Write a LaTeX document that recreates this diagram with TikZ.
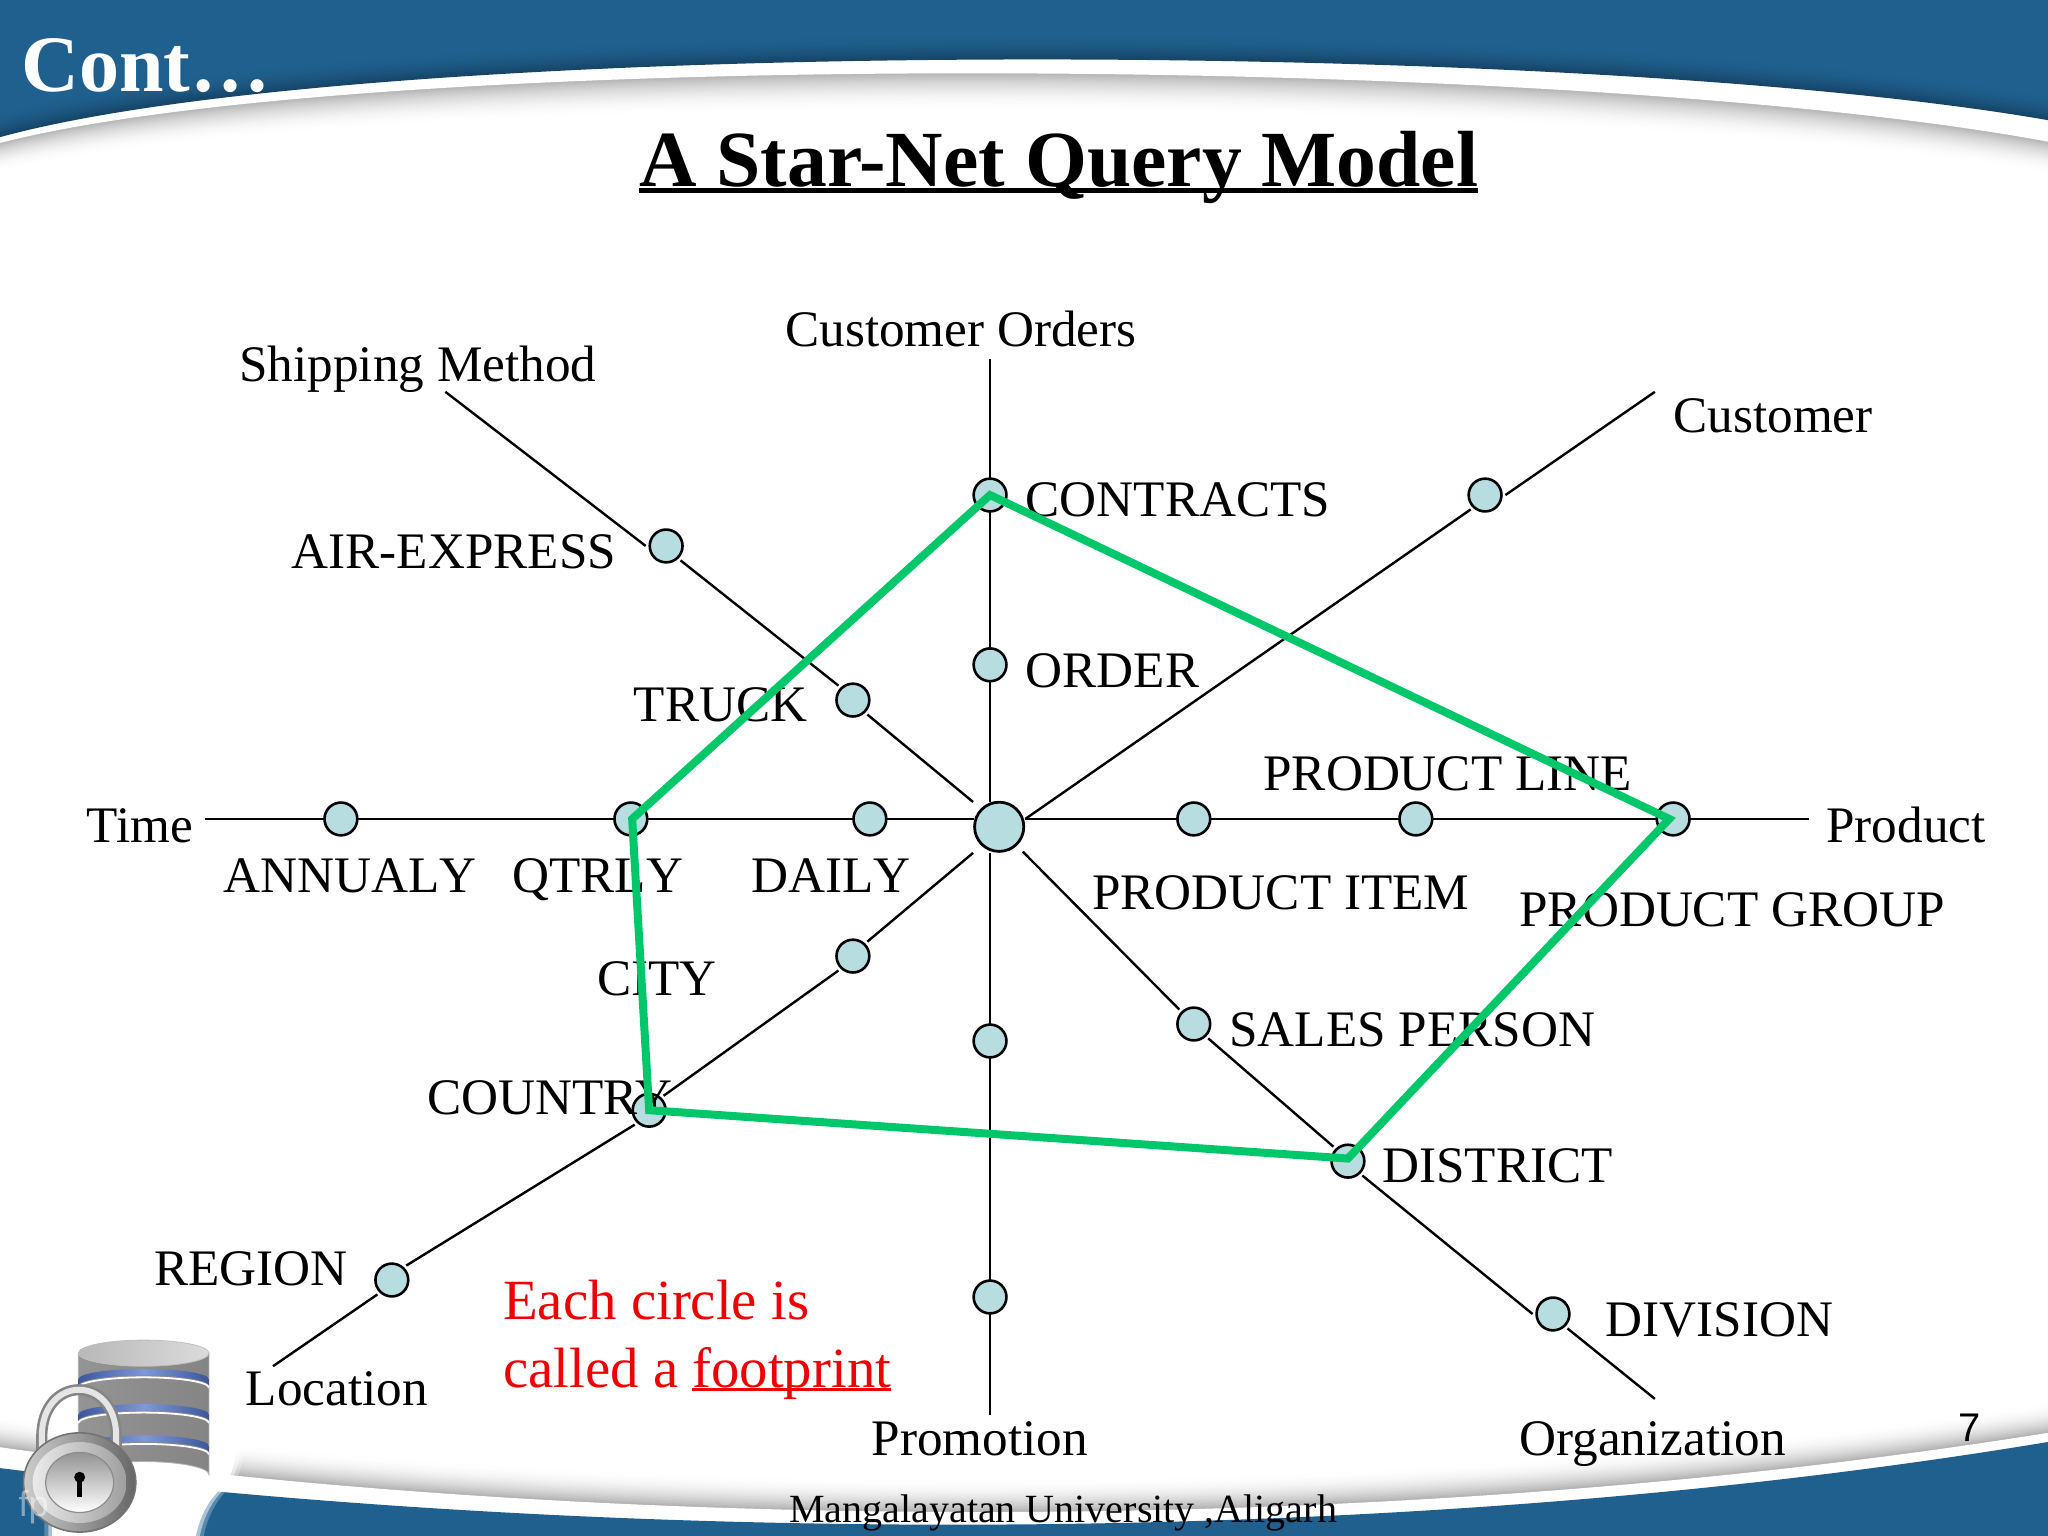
\documentclass[tikz,border=0pt]{standalone}
\usepackage{fontspec}
\setmainfont{Liberation Serif}
\newfontfamily\arialish{Liberation Sans}
\usetikzlibrary{calc}
\definecolor{slideblue}{HTML}{1F608F}
\definecolor{dotfill}{HTML}{B8DDE0}
\definecolor{footgreen}{HTML}{00C86A}
\definecolor{noteRed}{HTML}{F00000}
\definecolor{bandblue}{HTML}{4A6CC4}
\newcommand{\ulbar}[1]{\leavevmode\setbox0=\hbox{#1}\rlap{\rule[-0.075em]{\wd0}{0.055em}}\box0}
\tikzset{
  x=0.653pt,y=-0.653pt,
  link/.style={draw=black,line width=1.2pt,line cap=butt},
  dot/.style={circle,draw=black,line width=1.3pt,fill=dotfill,minimum size=16.4pt,inner sep=0pt,outer sep=0pt},
  dotgap/.style={dot,outer sep=2pt},
  hub/.style={circle,draw=black,line width=1.4pt,fill=dotfill,minimum size=24.6pt,inner sep=0pt,outer sep=0pt},
  lab/.style={anchor=base west,inner sep=0pt,font=\fontsize{25.6}{30}\selectfont},
  note/.style={anchor=base west,inner sep=0pt,text=noteRed,font=\fontsize{28.4}{34}\selectfont},
  foot/.style={draw=footgreen,line width=4pt,line join=miter}
}
\begin{document}
\begin{tikzpicture}
\useasboundingbox (0,0) rectangle (1568,1176);
\fill[white] (0,0) rectangle (1568,1176);
% ---- top swoosh
\foreach \i in {30,29,...,0}{
  \pgfmathsetmacro{\p}{30*(1-\i/30)^2}
  \fill[black!\p!white] (0,0) -- ($(0,109.5+0.75*\i)$) .. controls ($(280,37+1.05*\i)$) and ($(1200,40+1.05*\i)$) .. ($(1568,108.5+0.85*\i)$) -- (1568,0) -- cycle;
}
\fill[white] (0,0) -- (0,109.5) .. controls (280,37) and (1200,40) .. (1568,108.5) -- (1568,0) -- cycle;
\foreach \i in {0,1,...,20}{
  \pgfmathsetmacro{\p}{100-28*(1-\i/20)^2}
  \fill[slideblue!\p!black] (0,0) -- ($(0,105-\i)$) .. controls ($(280,28-\i)$) and ($(1200,28-\i)$) .. ($(1568,92-\i)$) -- (1568,0) -- cycle;
}
% ---- bottom swoosh
\foreach \i in {24,23,...,0}{
  \pgfmathsetmacro{\p}{32*(1-\i/24)^2}
  \fill[black!\p!white] (0,1176) -- ($(0,1108-\i)$) .. controls ($(450,1172-1.1*\i)$) and ($(1050,1180-1.1*\i)$) .. ($(1568,1097-\i)$) -- (1568,1176) -- cycle;
}
\fill[white] (0,1176) -- (0,1108) .. controls (450,1172) and (1050,1180) .. (1568,1097) -- (1568,1176) -- cycle;
\fill[slideblue] (0,1176) -- (0,1124) .. controls (450,1180) and (1050,1190) .. (1568,1104) -- (1568,1176) -- cycle;
% ---- glow behind the icon
\foreach \g/\o in {6/.25,3/.5,0/1}{
  \fill[white,opacity=\o] ($(40-\g,1176)$) -- ($(40-\g,1085)$) -- ($(182+\g,1085)$) .. controls ($(182+\g,1125)$) and ($(176+\g,1132)$) .. ($(168+\g,1141)$) .. controls ($(158+\g,1150)$) and ($(152+\g,1165)$) .. ($(150+\g,1176)$) -- cycle;
}
% ---- database icon
\path[left color=black!42,middle color=black!10,right color=black!48,draw=black!30,line width=.4pt]
  (60,1036) -- (60,1129) arc[start angle=180,end angle=360,x radius=50,y radius=10] -- (160,1036) -- cycle;
\foreach \b in {1056,1083,1107}{
  \path[left color=bandblue!80!black,right color=bandblue!80!black,middle color=bandblue!70!white]
    (60,\b) arc[start angle=180,end angle=360,x radius=50,y radius=8] -- ($(160,\b+5)$) arc[start angle=360,end angle=180,x radius=50,y radius=8] -- cycle;
  \draw[white,line width=.9pt] ($(60,\b+6.5)$) arc[start angle=180,end angle=360,x radius=50,y radius=8];
}
\path[left color=black!28,right color=black!14,draw=black!25,line width=.4pt] (110,1036) ellipse[x radius=50,y radius=10];
% ---- padlock
\draw[black!48,line width=5.6pt] (32,1115) -- (32,1100) .. controls (32,1052) and (89,1052) .. (89,1100) -- (89,1115);
\draw[black!10,line width=3pt] (32,1115) -- (32,1100) .. controls (32,1052) and (89,1052) .. (89,1100) -- (89,1115);
\path[left color=black!20,right color=black!60,draw=black!55,line width=.8pt] (61,1135) ellipse[x radius=43,y radius=38];
\path[left color=black!8,right color=black!38] (61,1135) ellipse[x radius=36,y radius=31];
\path[top color=black!42,bottom color=white,draw=black!45,line width=.6pt] (61,1135) ellipse[x radius=26,y radius=23];
\fill[black] (61,1131) circle[radius=4.2];
\fill[black] (59,1131) rectangle (63,1146);
\node[anchor=base west,inner sep=0pt,text=white,opacity=.45,font=\fontsize{18}{20}\selectfont\arialish] (wm) at (14,1161) {fp};
% ---- header texts
\node[anchor=base west,inner sep=0pt,text=white,font=\fontsize{40}{48}\bfseries\selectfont] (cont) at (16,70) {Cont…};
\node[anchor=base west,inner sep=0pt,font=\fontsize{39.8}{48}\bfseries\selectfont] (title) at (489,143) {\ulbar{A Star-Net Query Model}};
% ---- free ends of the axes
\coordinate (eOrders) at (758,275);
\coordinate (eHubN) at (758,614);
\coordinate (eHubS) at (758,653);
\coordinate (ePromo) at (758,1083);
\coordinate (eTime) at (157,627);
\coordinate (eHubW) at (746,627);
\coordinate (eHubE) at (785,627);
\coordinate (eProduct) at (1385,627);
\coordinate (eShip) at (341,300);
\coordinate (eHubNW) at (745,614);
\coordinate (eCust) at (1267,300);
\coordinate (eLoc) at (209,1046);
\coordinate (eHubSW) at (745,653);
\coordinate (eHubSE) at (783,652);
\coordinate (eOrg) at (1267,1071);
\coordinate (fpE) at (1278,627);
\coordinate (fpS) at (1032,887);
\coordinate (fpW) at (484,627);
% ---- dots
\node[hub] (hub) at (765,633) {};
\node[dot] (contracts) at (758,379) {};
\node[dot] (order) at (758,509) {};
\node[dot] (promoA) at (758,797) {};
\node[dot] (promoB) at (758,993) {};
\node[dot] (annually) at (261,627) {};
\node[dot] (qtrly) at (483,627) {};
\node[dot] (daily) at (666,627) {};
\node[dot] (pitem) at (914,627) {};
\node[dot] (pline) at (1084,627) {};
\node[dot] (pgroup) at (1281,627) {};
\node[dotgap] (air) at (510,418) {};
\node[dotgap] (truck) at (653,536) {};
\node[dotgap] (custdot) at (1137,379) {};
\node[dotgap] (city) at (653,732) {};
\node[dotgap] (country) at (497,850) {};
\node[dotgap] (region) at (300,980) {};
\node[dotgap] (sales) at (914,784) {};
\node[dotgap] (district) at (1032,889) {};
\node[dotgap] (division) at (1189,1006) {};
% ---- connectors
\draw[link] (eOrders) -- (contracts);
\draw[link] (contracts) -- (order);
\draw[link] (order) -- (eHubN);
\draw[link] (eHubS) -- (promoA);
\draw[link] (promoA) -- (promoB);
\draw[link] (promoB) -- (ePromo);
\draw[link] (eTime) -- (annually);
\draw[link] (annually) -- (qtrly);
\draw[link] (qtrly) -- (daily);
\draw[link] (daily) -- (eHubW);
\draw[link] (eHubE) -- (pitem);
\draw[link] (pitem) -- (pline);
\draw[link] (pline) -- (pgroup);
\draw[link] (pgroup) -- (eProduct);
\draw[link] (eShip) -- (air.west);
\draw[link] (air.south east) -- (truck.north west);
\draw[link] (truck.south east) -- (eHubNW);
\draw[link] (eCust) -- (custdot.east);
\draw[link] (custdot.south west) -- (eHubE);
\draw[link] (eHubSW) -- (city.north east);
\draw[link] (city.south west) -- (country.north east);
\draw[link] (country.south west) -- (region.north east);
\draw[link] (region.south west) -- (eLoc);
\draw[link] (eHubSE) -- (sales.north west);
\draw[link] (sales.south east) -- (district.north west);
\draw[link] (district.south east) -- (division.west);
\draw[link] (division.south east) -- (eOrg);
% ---- labels
\node[lab] (tOrders) at (601,265) {Customer Orders};
\node[lab] (tShip) at (183,292) {Shipping Method};
\node[lab] (tCust) at (1281,331) {Customer};
\node[lab] (tContracts) at (785,395.5) {CONTRACTS};
\node[lab] (tAir) at (223,435) {AIR-EXPRESS};
\node[lab] (tOrder) at (785,526) {ORDER};
\node[lab] (tTruck) at (485,552.5) {TRUCK};
\node[lab] (tPLine) at (967,605) {PRODUCT LINE};
\node[lab] (tTime) at (66,645) {Time};
\node[lab] (tProduct) at (1398,645) {Product};
\node[lab] (tAnn) at (171,683) {ANNUAL\kern0pt Y};
\node[lab] (tQtr) at (392,683) {QTRL\kern0pt Y};
\node[lab] (tDaily) at (575,683) {DAIL\kern0pt Y};
\node[lab] (tPItem) at (836,696) {PRODUCT ITEM};
\node[lab] (tPGroup) at (1163,709) {PRODUCT GROUP};
\node[lab] (tCity) at (457,762) {CITY};
\node[lab] (tSales) at (941,801) {SALES PERSON};
\node[lab] (tCountry) at (327,853) {COUNTRY};
\node[lab] (tDistrict) at (1058,905) {DISTRICT};
\node[lab] (tRegion) at (118,984) {REGION};
\node[lab] (tDivision) at (1229,1023) {DIVISION};
\node[lab] (tLoc) at (188,1076) {Location};
\node[lab] (tPromo) at (667,1114) {Promotion};
\node[lab] (tOrg) at (1163,1114) {Organization};
\node[note] (nA) at (385,1010) {Each circle is};
\node[note] (nB) at (385,1062) {called a \ulbar{footprint}};
\node[anchor=base west,inner sep=0pt,font=\fontsize{20}{24}\selectfont\arialish] (pageno) at (1499,1104) {7};
\node[anchor=base west,inner sep=0pt,font=\fontsize{20}{24}\selectfont] (uni) at (604,1166) {Mangalayatan University ,Aligarh};
% ---- footprint polygon
\draw[foot] (contracts.center) -- (fpE) -- (fpS) -- (country.center) -- (fpW) -- cycle;
\end{tikzpicture}
\end{document}
